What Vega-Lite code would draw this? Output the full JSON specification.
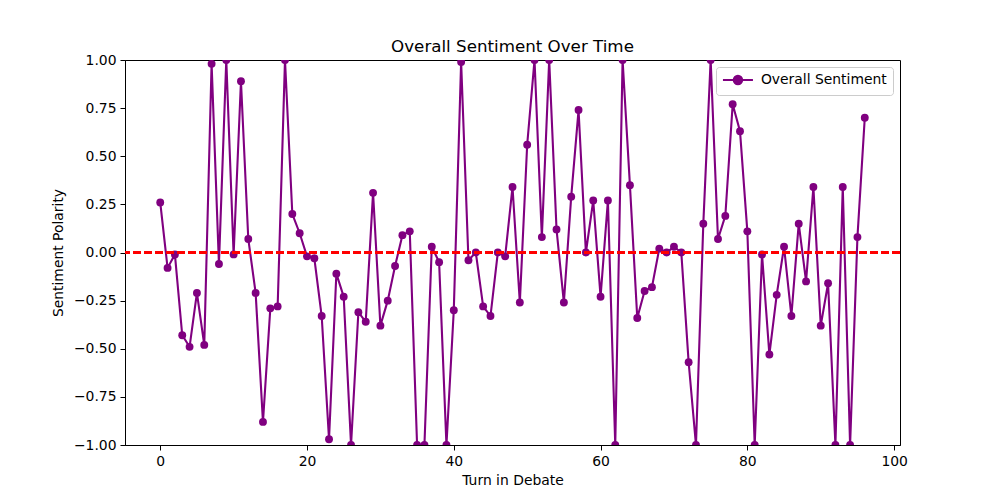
{
  "$schema": "https://vega.github.io/schema/vega-lite/v6.json",
  "width": 775,
  "height": 385,
  "autosize": "none",
  "padding": {"left": 125, "top": 60, "right": 100, "bottom": 55},
  "background": "white",
  "config": {
    "font": "DejaVu Sans",
    "view": {"stroke": "black", "strokeWidth": 1},
    "axis": {
      "grid": false,
      "domainColor": "black",
      "tickColor": "black",
      "tickSize": 5,
      "labelPadding": 4,
      "labelFontSize": 13.9,
      "labelColor": "black",
      "titleFontSize": 13.9,
      "titleFontWeight": "normal",
      "titleColor": "black",
      "labelFont": "DejaVu Sans",
      "titleFont": "DejaVu Sans"
    }
  },
  "title": {
    "text": "Overall Sentiment Over Time",
    "fontSize": 16.7,
    "fontWeight": "normal",
    "font": "DejaVu Sans",
    "color": "black",
    "anchor": "middle",
    "frame": "group",
    "baseline": "alphabetic",
    "offset": -16
  },
  "data": {
    "values": [
      {"turn": 0, "sentiment": 0.26, "series": "Overall Sentiment"},
      {"turn": 1, "sentiment": -0.08, "series": "Overall Sentiment"},
      {"turn": 2, "sentiment": -0.01, "series": "Overall Sentiment"},
      {"turn": 3, "sentiment": -0.43, "series": "Overall Sentiment"},
      {"turn": 4, "sentiment": -0.49, "series": "Overall Sentiment"},
      {"turn": 5, "sentiment": -0.21, "series": "Overall Sentiment"},
      {"turn": 6, "sentiment": -0.48, "series": "Overall Sentiment"},
      {"turn": 7, "sentiment": 0.98, "series": "Overall Sentiment"},
      {"turn": 8, "sentiment": -0.06, "series": "Overall Sentiment"},
      {"turn": 9, "sentiment": 1.0, "series": "Overall Sentiment"},
      {"turn": 10, "sentiment": -0.01, "series": "Overall Sentiment"},
      {"turn": 11, "sentiment": 0.89, "series": "Overall Sentiment"},
      {"turn": 12, "sentiment": 0.07, "series": "Overall Sentiment"},
      {"turn": 13, "sentiment": -0.21, "series": "Overall Sentiment"},
      {"turn": 14, "sentiment": -0.88, "series": "Overall Sentiment"},
      {"turn": 15, "sentiment": -0.29, "series": "Overall Sentiment"},
      {"turn": 16, "sentiment": -0.28, "series": "Overall Sentiment"},
      {"turn": 17, "sentiment": 1.0, "series": "Overall Sentiment"},
      {"turn": 18, "sentiment": 0.2, "series": "Overall Sentiment"},
      {"turn": 19, "sentiment": 0.1, "series": "Overall Sentiment"},
      {"turn": 20, "sentiment": -0.02, "series": "Overall Sentiment"},
      {"turn": 21, "sentiment": -0.03, "series": "Overall Sentiment"},
      {"turn": 22, "sentiment": -0.33, "series": "Overall Sentiment"},
      {"turn": 23, "sentiment": -0.97, "series": "Overall Sentiment"},
      {"turn": 24, "sentiment": -0.11, "series": "Overall Sentiment"},
      {"turn": 25, "sentiment": -0.23, "series": "Overall Sentiment"},
      {"turn": 26, "sentiment": -1.0, "series": "Overall Sentiment"},
      {"turn": 27, "sentiment": -0.31, "series": "Overall Sentiment"},
      {"turn": 28, "sentiment": -0.36, "series": "Overall Sentiment"},
      {"turn": 29, "sentiment": 0.31, "series": "Overall Sentiment"},
      {"turn": 30, "sentiment": -0.38, "series": "Overall Sentiment"},
      {"turn": 31, "sentiment": -0.25, "series": "Overall Sentiment"},
      {"turn": 32, "sentiment": -0.07, "series": "Overall Sentiment"},
      {"turn": 33, "sentiment": 0.09, "series": "Overall Sentiment"},
      {"turn": 34, "sentiment": 0.11, "series": "Overall Sentiment"},
      {"turn": 35, "sentiment": -1.0, "series": "Overall Sentiment"},
      {"turn": 36, "sentiment": -1.0, "series": "Overall Sentiment"},
      {"turn": 37, "sentiment": 0.03, "series": "Overall Sentiment"},
      {"turn": 38, "sentiment": -0.05, "series": "Overall Sentiment"},
      {"turn": 39, "sentiment": -1.0, "series": "Overall Sentiment"},
      {"turn": 40, "sentiment": -0.3, "series": "Overall Sentiment"},
      {"turn": 41, "sentiment": 0.99, "series": "Overall Sentiment"},
      {"turn": 42, "sentiment": -0.04, "series": "Overall Sentiment"},
      {"turn": 43, "sentiment": 0.0, "series": "Overall Sentiment"},
      {"turn": 44, "sentiment": -0.28, "series": "Overall Sentiment"},
      {"turn": 45, "sentiment": -0.33, "series": "Overall Sentiment"},
      {"turn": 46, "sentiment": 0.0, "series": "Overall Sentiment"},
      {"turn": 47, "sentiment": -0.02, "series": "Overall Sentiment"},
      {"turn": 48, "sentiment": 0.34, "series": "Overall Sentiment"},
      {"turn": 49, "sentiment": -0.26, "series": "Overall Sentiment"},
      {"turn": 50, "sentiment": 0.56, "series": "Overall Sentiment"},
      {"turn": 51, "sentiment": 1.0, "series": "Overall Sentiment"},
      {"turn": 52, "sentiment": 0.08, "series": "Overall Sentiment"},
      {"turn": 53, "sentiment": 1.0, "series": "Overall Sentiment"},
      {"turn": 54, "sentiment": 0.12, "series": "Overall Sentiment"},
      {"turn": 55, "sentiment": -0.26, "series": "Overall Sentiment"},
      {"turn": 56, "sentiment": 0.29, "series": "Overall Sentiment"},
      {"turn": 57, "sentiment": 0.74, "series": "Overall Sentiment"},
      {"turn": 58, "sentiment": 0.0, "series": "Overall Sentiment"},
      {"turn": 59, "sentiment": 0.27, "series": "Overall Sentiment"},
      {"turn": 60, "sentiment": -0.23, "series": "Overall Sentiment"},
      {"turn": 61, "sentiment": 0.27, "series": "Overall Sentiment"},
      {"turn": 62, "sentiment": -1.0, "series": "Overall Sentiment"},
      {"turn": 63, "sentiment": 1.0, "series": "Overall Sentiment"},
      {"turn": 64, "sentiment": 0.35, "series": "Overall Sentiment"},
      {"turn": 65, "sentiment": -0.34, "series": "Overall Sentiment"},
      {"turn": 66, "sentiment": -0.2, "series": "Overall Sentiment"},
      {"turn": 67, "sentiment": -0.18, "series": "Overall Sentiment"},
      {"turn": 68, "sentiment": 0.02, "series": "Overall Sentiment"},
      {"turn": 69, "sentiment": 0.0, "series": "Overall Sentiment"},
      {"turn": 70, "sentiment": 0.03, "series": "Overall Sentiment"},
      {"turn": 71, "sentiment": 0.0, "series": "Overall Sentiment"},
      {"turn": 72, "sentiment": -0.57, "series": "Overall Sentiment"},
      {"turn": 73, "sentiment": -1.0, "series": "Overall Sentiment"},
      {"turn": 74, "sentiment": 0.15, "series": "Overall Sentiment"},
      {"turn": 75, "sentiment": 1.0, "series": "Overall Sentiment"},
      {"turn": 76, "sentiment": 0.07, "series": "Overall Sentiment"},
      {"turn": 77, "sentiment": 0.19, "series": "Overall Sentiment"},
      {"turn": 78, "sentiment": 0.77, "series": "Overall Sentiment"},
      {"turn": 79, "sentiment": 0.63, "series": "Overall Sentiment"},
      {"turn": 80, "sentiment": 0.11, "series": "Overall Sentiment"},
      {"turn": 81, "sentiment": -1.0, "series": "Overall Sentiment"},
      {"turn": 82, "sentiment": -0.01, "series": "Overall Sentiment"},
      {"turn": 83, "sentiment": -0.53, "series": "Overall Sentiment"},
      {"turn": 84, "sentiment": -0.22, "series": "Overall Sentiment"},
      {"turn": 85, "sentiment": 0.03, "series": "Overall Sentiment"},
      {"turn": 86, "sentiment": -0.33, "series": "Overall Sentiment"},
      {"turn": 87, "sentiment": 0.15, "series": "Overall Sentiment"},
      {"turn": 88, "sentiment": -0.15, "series": "Overall Sentiment"},
      {"turn": 89, "sentiment": 0.34, "series": "Overall Sentiment"},
      {"turn": 90, "sentiment": -0.38, "series": "Overall Sentiment"},
      {"turn": 91, "sentiment": -0.16, "series": "Overall Sentiment"},
      {"turn": 92, "sentiment": -1.0, "series": "Overall Sentiment"},
      {"turn": 93, "sentiment": 0.34, "series": "Overall Sentiment"},
      {"turn": 94, "sentiment": -1.0, "series": "Overall Sentiment"},
      {"turn": 95, "sentiment": 0.08, "series": "Overall Sentiment"},
      {"turn": 96, "sentiment": 0.7, "series": "Overall Sentiment"}
    ]
  },
  "layer": [
    {
      "mark": {
        "type": "line",
        "strokeWidth": 2.1,
        "clip": true,
        "point": {"filled": true, "size": 62, "opacity": 1, "clip": true}
      },
      "encoding": {
        "x": {
          "field": "turn",
          "type": "quantitative",
          "title": "Turn in Debate",
          "scale": {"domain": [-4.8, 100.8], "nice": false, "zero": false},
          "axis": {"values": [0, 20, 40, 60, 80, 100], "format": "d", "titlePadding": 6}
        },
        "y": {
          "field": "sentiment",
          "type": "quantitative",
          "title": "Sentiment Polarity",
          "scale": {"domain": [-1, 1], "nice": false},
          "axis": {"values": [-1, -0.75, -0.5, -0.25, 0, 0.25, 0.5, 0.75, 1], "format": ".2f", "titlePadding": 8}
        },
        "color": {
          "field": "series",
          "type": "nominal",
          "scale": {"range": ["#800080"]},
          "legend": {
            "title": null,
            "orient": "top-right",
            "offset": 7,
            "fillColor": "white",
            "strokeColor": "#cccccc",
            "cornerRadius": 3,
            "padding": 6,
            "labelFontSize": 13.9,
            "labelColor": "black",
            "labelFont": "DejaVu Sans",
            "symbolType": "M-3,0H3M-0.84,0A0.84,0.84,0,1,0,0.84,0A0.84,0.84,0,1,0,-0.84,0Z",
            "symbolSize": 100,
            "symbolOffset": 9,
            "symbolStrokeWidth": 2.1,
            "symbolFillColor": "#800080",
            "symbolStrokeColor": "#800080",
            "labelOffset": 16
          }
        }
      }
    },
    {
      "mark": {"type": "rule", "color": "red", "strokeWidth": 2, "strokeDash": [7.7, 3.3]},
      "encoding": {"y": {"datum": 0}}
    }
  ]
}
